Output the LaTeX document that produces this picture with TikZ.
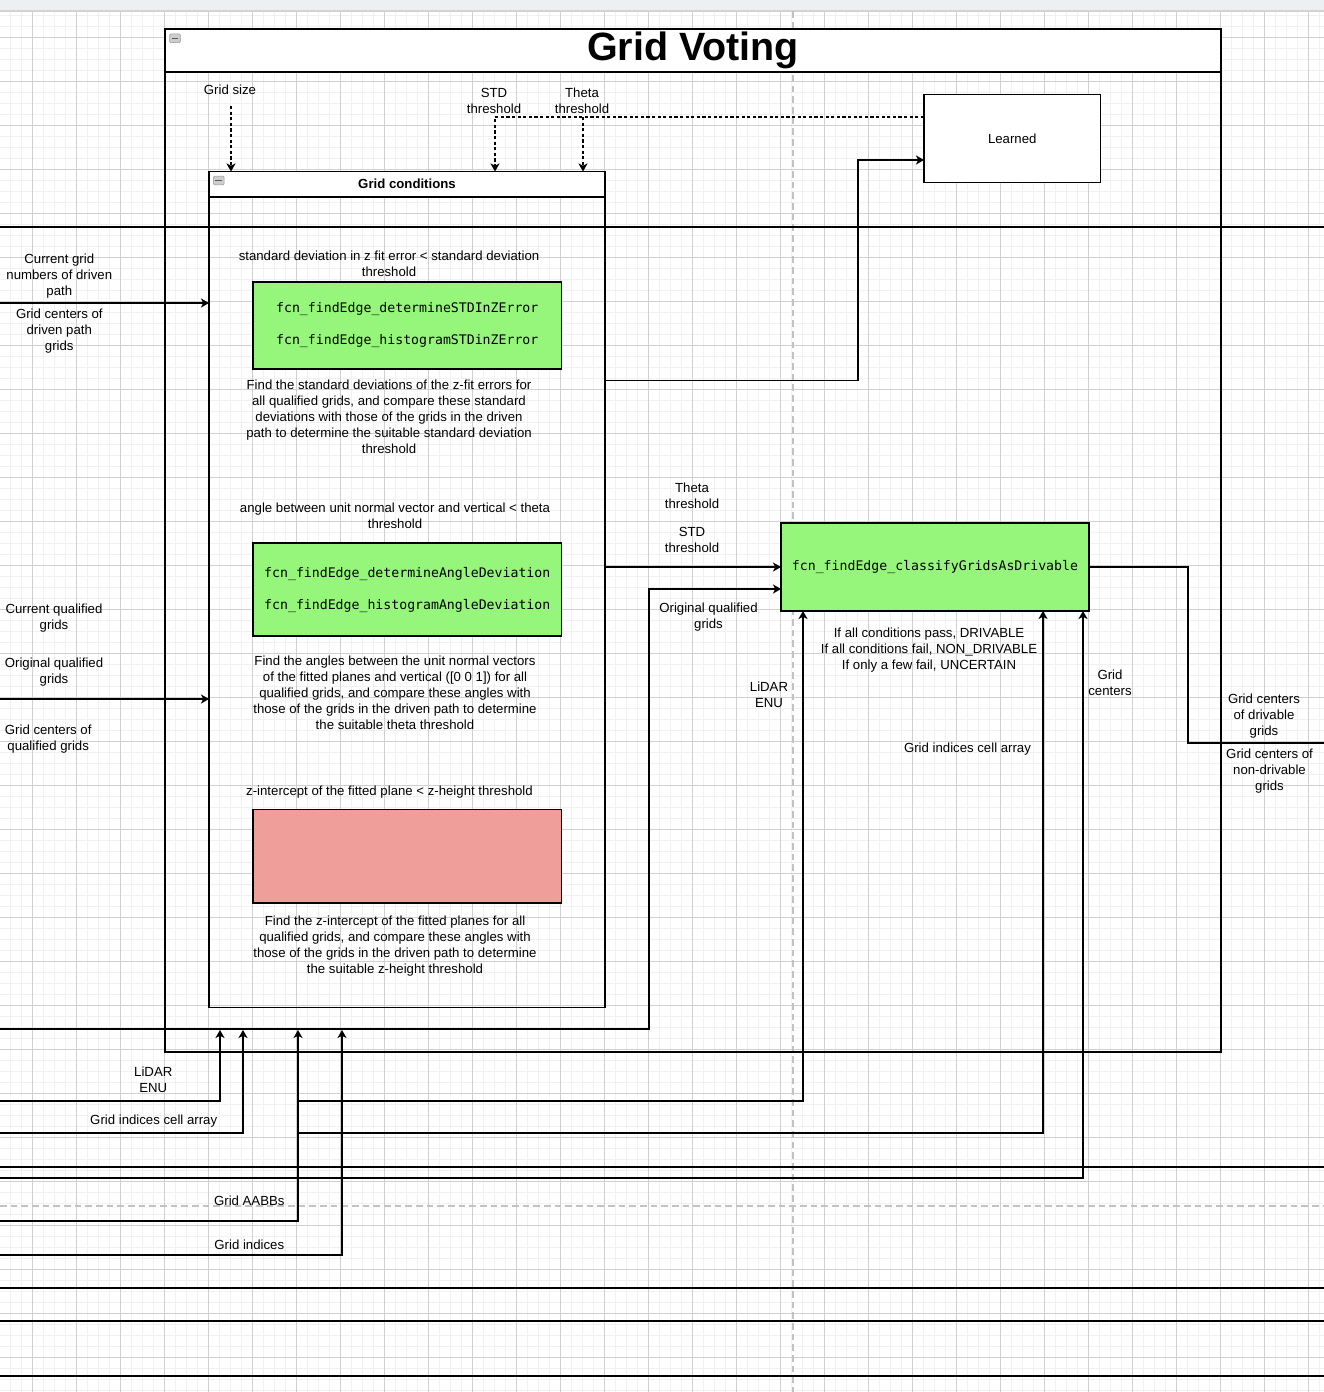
\documentclass[tikz,border=0pt]{standalone}
\usepackage{fontspec}
\setmainfont{Liberation Sans}
\setmonofont{DejaVu Sans Mono}
\usepackage{tikz}
\usetikzlibrary{arrows.meta,positioning,calc}
\definecolor{drivgreen}{RGB}{149,246,123}
\definecolor{zred}{RGB}{240,158,154}
\definecolor{gridminor}{RGB}{241,241,241}
\definecolor{gridmajor}{RGB}{208,208,208}
\definecolor{pagebreak}{RGB}{194,194,194}
\definecolor{topband}{RGB}{238,239,241}

\begin{document}
\begin{tikzpicture}[x=0.75pt,y=-0.75pt,
  >={Stealth[length=6pt,width=6.8pt,inset=1.6pt]},
  lbl/.style={align=center,inner sep=0pt,yshift=-0.9pt,font=\fontsize{9.9}{12}\selectfont},
  fcn/.style={align=center,inner sep=0pt,font=\ttfamily\fontsize{9.9}{12}\selectfont},
  boxframe/.style={draw,anchor=north west,inner sep=0pt,outer sep=0pt,line width=0.8pt},
  wire/.style={line width=0.8pt},
  dashwire/.style={wire,dash pattern=on 2.4pt off 1.8pt},
  collapse/.style={draw=gray!80,fill=gray!40,rounded corners=0.8pt,minimum width=8pt,
    minimum height=6.5pt,inner sep=0pt,
    path picture={\draw[black!65,line width=1.2pt]
      ([xshift=-2.6pt]path picture bounding box.center) -- ([xshift=2.6pt]path picture bounding box.center);}}]
  \useasboundingbox (0,0) rectangle (1324,1392);
  \fill[white] (0,0) rectangle (1324,1392);
  % background grid
  \foreach \gx in {10,21,...,1324}
    \draw[gridminor,line width=0.75pt] (\gx,11) -- (\gx,1392);
  \foreach \gy in {15.3,26.3,...,1392}
    \draw[gridminor,line width=0.75pt] (0,\gy) -- (1324,\gy);
  \foreach \gx in {32,76,...,1324}
    \draw[gridmajor,line width=0.75pt] (\gx,11) -- (\gx,1392);
  \foreach \gy in {37.3,81.3,...,1392}
    \draw[gridmajor,line width=0.75pt] (0,\gy) -- (1324,\gy);
  \fill[topband] (0,0) rectangle (1324,11);
  \draw[gray!35,line width=0.9pt] (0,11) -- (1324,11);
  % page breaks
  \draw[pagebreak,line width=1.1pt,dash pattern=on 5pt off 3pt] (793,11) -- (793,1392);
  \draw[pagebreak,line width=1.1pt,dash pattern=on 5pt off 3pt] (0,1206) -- (1324,1206);
  % lanes
  \foreach \ly in {227,1167,1288,1321,1376}
    \draw[wire] (0,\ly) -- (1324,\ly);

  % containers
  \node[boxframe,minimum width=792pt,minimum height=767.25pt] (voting) at (165,29) {};
  \node[boxframe,fill=white,minimum width=792pt,minimum height=32.25pt,
    font=\fontsize{29.6}{31}\selectfont\bfseries] (votinghead) at (165,29) {Grid Voting};
  \node[collapse] (votingicon) at (175,38.3) {};
  \node[boxframe,minimum width=297pt,minimum height=627pt] (cond) at (209,171.5) {};
  \node[boxframe,fill=white,minimum width=297pt,minimum height=19.1pt,
    font=\fontsize{9.9}{12}\selectfont\bfseries] (condhead) at (209,171.5) {Grid conditions};
  \node[collapse] (condicon) at (218.8,180.5) {};
  \node[boxframe,fill=white,minimum width=132.4pt,minimum height=66.3pt,
    font=\fontsize{9.9}{12}\selectfont] (learned) at (924,94.3) {Learned};

  % condition boxes
  \node[fcn,boxframe,fill=drivgreen,minimum width=231.4pt,minimum height=65.25pt] (stdbox) at (253,282)
    {\raisebox{-1.5pt}{fcn\_findEdge\_determineSTDInZError}\\[12pt]\raisebox{-1.5pt}{fcn\_findEdge\_histogramSTDinZError}};
  \node[fcn,boxframe,fill=drivgreen,minimum width=231.4pt,minimum height=69.75pt] (anglebox) at (253,543)
    {fcn\_findEdge\_determineAngleDeviation\\[12pt]fcn\_findEdge\_histogramAngleDeviation};
  \node[boxframe,fill=zred,minimum width=231.4pt,minimum height=70.1pt] (zbox) at (253,809.5) {};
  \node[fcn,boxframe,fill=drivgreen,minimum width=231pt,minimum height=66pt] (classify) at (781,523)
    {\raisebox{-1.5pt}{fcn\_findEdge\_classifyGridsAsDrivable}};

  % texts in the conditions box
  \node[lbl] (stdcond) at (389,262.7) {standard deviation in z fit error < standard deviation\\threshold};
  \node[lbl] (stddesc) at (389,416) {Find the standard deviations of the z-fit errors for\\all qualified grids, and compare these standard\\deviations with those of the grids in the driven\\path to determine the suitable standard deviation\\threshold};
  \node[lbl] (anglecond) at (395,515) {angle between unit normal vector and vertical < theta\\threshold};
  \node[lbl] (angledesc) at (395,691.3) {Find the angles between the unit normal vectors\\of the fitted planes and vertical ([0 0 1]) for all\\qualified grids, and compare these angles with\\those of the grids in the driven path to determine\\the suitable theta threshold};
  \node[lbl] (zcond) at (389.5,790.7) {z-intercept of the fitted plane < z-height threshold};
  \node[lbl] (zdesc) at (395,944.7) {Find the z-intercept of the fitted planes for all\\qualified grids, and compare these angles with\\those of the grids in the driven path to determine\\the suitable z-height threshold};

  % connector labels
  \node[lbl] (gridsize) at (230,88.7) {Grid size};
  \node[lbl] (stdlbl) at (494,99.3) {STD\\threshold};
  \node[lbl] (thetalbl) at (582,99.3) {Theta\\threshold};
  \node[lbl] (pathnum) at (59.3,275) {Current grid\\numbers of driven\\path};
  \node[lbl] (pathctr) at (59.3,330) {Grid centers of\\driven path\\grids};
  \node[lbl] (curqual) at (54,616.7) {Current qualified\\grids};
  \node[lbl] (origqual) at (54,671.3) {Original qualified\\grids};
  \node[lbl] (qualctr) at (48.2,737.8) {Grid centers of\\qualified grids};
  \node[lbl] (thetain) at (692,495) {Theta\\threshold};
  \node[lbl] (stdin) at (692,539) {STD\\threshold};
  \node[lbl] (origin) at (708.5,616) {Original qualified\\grids};
  \node[lbl] (verdict) at (929,648.7) {If all conditions pass, DRIVABLE\\If all conditions fail, NON\_DRIVABLE\\If only a few fail, UNCERTAIN};
  \node[lbl] (lidarin) at (769,693.5) {LiDAR\\ENU};
  \node[lbl] (ctrin) at (1110,682) {Grid\\centers};
  \node[lbl] (cellin) at (967.5,748) {Grid indices cell array};
  \node[lbl] (drivout) at (1264,715) {Grid centers\\of drivable\\grids};
  \node[lbl] (nondrivout) at (1269.5,770) {Grid centers of\\non-drivable\\grids};
  \node[lbl] (lidarlbl) at (153.3,1078.7) {LiDAR\\ENU};
  \node[lbl] (celllbl) at (153.7,1120.3) {Grid indices cell array};
  \node[lbl] (aabblbl) at (249.3,1199.3) {Grid AABBs};
  \node[lbl] (idxlbl) at (249.3,1243.3) {Grid indices};

  % thresholds
  \coordinate (gsz) at (231,106);
  \coordinate (stdtap) at (495,117);
  \coordinate (thetatap) at (583,117);
  \draw[dashwire,->] (gsz) -- (gsz |- cond.north);
  \draw[dashwire,->] (learned.west |- stdtap) -| (stdtap |- cond.north);
  \draw[dashwire,->] (thetatap) -- (thetatap |- cond.north);
  \coordinate (learnturn) at (858,160);
  \draw[wire,->] ([yshift=157pt]cond.east) -| (learnturn) -- (learned.west |- learnturn);
  \draw[wire,->] (cond.east |- classify.west) -- (classify.west);

  % inputs
  \coordinate (pathsrc) at (0,303);
  \coordinate (qualsrc) at (0,699);
  \draw[wire,->] (pathsrc) -- (pathsrc -| cond.west);
  \draw[wire,->] (qualsrc) -- (qualsrc -| cond.west);
  \coordinate (origsrc) at (0,1029);
  \coordinate (origturn) at (649,589);
  \draw[wire,->] (origsrc) -| (origturn) -- (origturn -| classify.west);
  \foreach \nm/\sy/\tx in {lidar/1101/220,cells/1133/243,aabb/1221/298,idx/1255/342} {
    \coordinate (\nm src) at (0,\sy);
    \coordinate (\nm tip) at (\tx,1030);
    \draw[wire,->] (\nm src) -| (\nm tip);
  }
  \coordinate (lidarturn) at (298,1101);
  \coordinate (cellturn) at (298,1133);
  \coordinate (ctrsrc) at (0,1178);
  \draw[wire,->] (lidarturn) -| ([xshift=16.5pt]classify.south west);
  \draw[wire,->] (cellturn) -| ([xshift=196.5pt]classify.south west);
  \draw[wire,->] (ctrsrc) -| ([xshift=226.5pt]classify.south west);

  % output
  \coordinate (outturn) at (1188,743);
  \coordinate (outend) at (1324,743);
  \draw[wire] (classify.east) -| (outturn) -- (outend);
\end{tikzpicture}
\end{document}
